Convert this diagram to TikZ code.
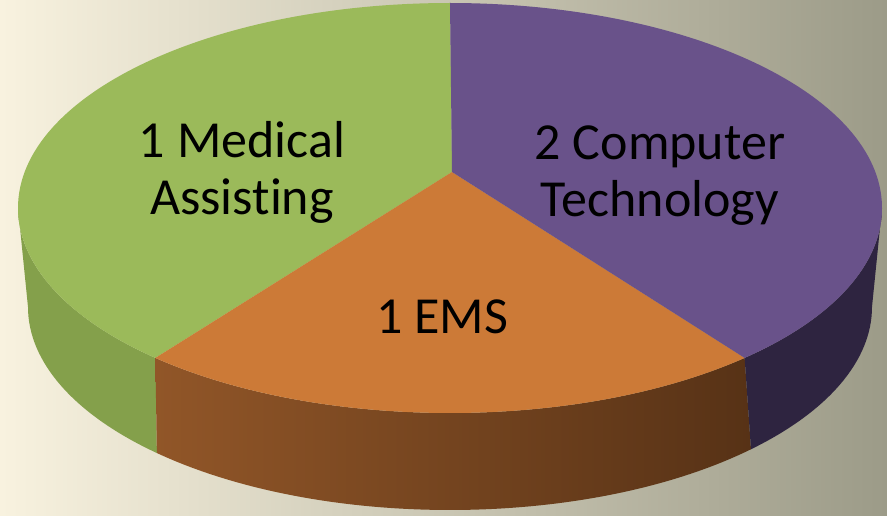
\documentclass[tikz,border=0pt]{standalone}
\usepackage{fontspec}
\setmainfont{Carlito}[Ligatures=NoCommon]
\definecolor{bgleft}{HTML}{F8F2DF}
\definecolor{bgmid}{HTML}{E6E0CA}
\definecolor{bgright}{HTML}{9C9B88}
\definecolor{medtop}{HTML}{9BBA5A}
\definecolor{medside}{HTML}{84A04B}
\definecolor{emstop}{HTML}{CC7A37}
\definecolor{emsleft}{HTML}{915628}
\definecolor{emsright}{HTML}{573216}
\definecolor{comptop}{HTML}{69528A}
\definecolor{compside}{HTML}{2E2440}
\tikzset{
  label/.style={font=\fontsize{52}{57}\selectfont, align=center, text=black, inner sep=0pt},
  topface/.style={draw=none},
}
\begin{document}
\begin{tikzpicture}[x=1pt,y=1pt]
    \shade [left color=bgleft, middle color=bgmid, right color=bgright] (0,0) rectangle (887,515);
    \useasboundingbox (0,0) rectangle (887,515);
    \coordinate (ctop) at (450,307);
    \coordinate (cbot) at (450,208);
    \coordinate (apex) at (452,343);
    % side walls
    \path [fill=medside] ([shift={(180:432 and 205)}]ctop) arc [start angle=180, end angle=227, x radius=432, y radius=205]
        -- ([shift={(226:422 and 203)}]cbot) arc [start angle=226, end angle=180, x radius=422, y radius=203] -- cycle;
    \path [left color=emsleft, right color=emsright] ([shift={(227:432 and 205)}]ctop) arc [start angle=227, end angle=313, x radius=432, y radius=205]
        -- ([shift={(315.5:422 and 203)}]cbot) arc [start angle=315.5, end angle=226, x radius=422, y radius=203] -- cycle;
    \path [fill=compside] ([shift={(313:432 and 205)}]ctop) arc [start angle=313, end angle=360, x radius=432, y radius=205]
        -- ([shift={(360:422 and 203)}]cbot) arc [start angle=360, end angle=315.5, x radius=422, y radius=203] -- cycle;
    % top slices
    \path [topface, fill=medtop] (apex) -- ([shift={(90:432 and 205)}]ctop) arc [start angle=90, end angle=227, x radius=432, y radius=205] -- cycle;
    \path [topface, fill=emstop] (apex) -- ([shift={(227:432 and 205)}]ctop) arc [start angle=227, end angle=313, x radius=432, y radius=205] -- cycle;
    \path [topface, fill=comptop] (apex) -- ([shift={(313:432 and 205)}]ctop) arc [start angle=313, end angle=450, x radius=432, y radius=205] -- cycle;
    % labels
    \node [label] (med) at (242,343) {1 Medical\\Assisting};
    \node [label] (comp) at (660,339) {2 Computer\\Technology};
    \node [label, anchor=base] (ems) at (442,182) {1 EMS};
\end{tikzpicture}
\end{document}
